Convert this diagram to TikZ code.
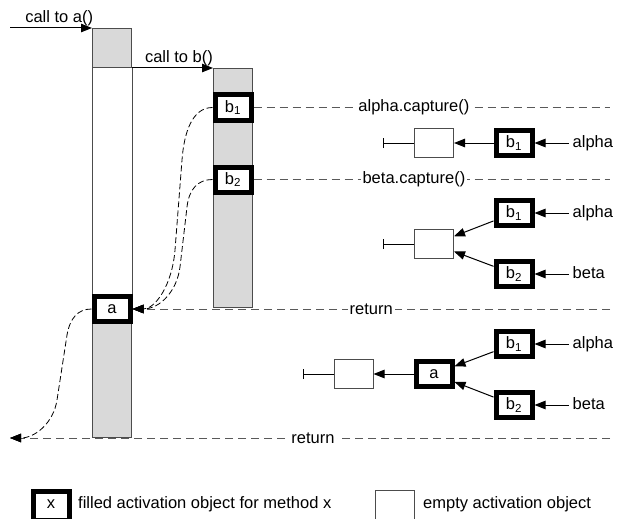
\documentclass[tikz,border=0pt]{standalone}
\usepackage{fontspec}
\setmainfont{Liberation Sans}
\usetikzlibrary{positioning, arrows.meta}

\begin{document}
\begin{tikzpicture}[x=1pt, y=-1pt, font=\fontsize{16.5}{19}\selectfont,
  column/.style={draw=black!70, fill=black!15, line width=1pt, minimum width=39pt, inner sep=0pt},
  filled/.style={draw, line width=5pt, fill=white, minimum width=36pt, minimum height=25pt, inner sep=0pt},
  emptybox/.style={draw=black!70, line width=1pt, fill=white, minimum width=39pt, minimum height=29pt, inner sep=0pt},
  var/.style={inner sep=4pt, text height=12pt, text depth=3.5pt},
  arr/.style={line width=1pt, -{Triangle[length=11pt, width=8.5pt]}},
  sep/.style={draw=black!65, line width=1pt, dash pattern=on 8pt off 5pt},
  back/.style={sep, -{Triangle[length=11pt, width=8.5pt, color=black]}},
  flow/.style={line width=0.8pt, dash pattern=on 6pt off 3pt, -{Triangle[length=11pt, width=8.5pt]}},
  lbl/.style={fill=white, inner sep=2pt},
  tick/.style={line width=1pt, {Bar[width=10pt]}-}]
  \useasboundingbox (0,0) rectangle (619,519);

  \node[column, minimum height=409pt] (colA) at (112,233) {};
  \draw[draw=black!70, line width=1pt, fill=white] (92,68) rectangle (132,294);
  \node[column, minimum height=239pt] (colB) at (233,188) {};

  \node[filled] (a) at (112,309) {a};
  \node[filled] (b1) at (233,107.5) {b\textsubscript{1}};
  \node[filled] (b2) at (233,179.5) {b\textsubscript{2}};

  \coordinate (inA) at (10,28);
  \draw[arr] (inA) -- node[above, pos=0.6, inner sep=2pt] (callA) {call to a()} (colA.north west);
  \draw[arr] (colA.east |- colB.north) -- node[above, pos=0.58, inner sep=2pt] (callB) {call to b()} (colB.north west);

  \coordinate (e1) at (610,107.5);
  \coordinate (e2) at (610,179.5);
  \coordinate (e3) at (610,309);
  \coordinate (e4) at (610,438);
  \coordinate (out) at (10,438);
  \draw[sep] (b1.east) -- node[lbl, pos=0.45] (capA) {alpha.capture()} (e1);
  \draw[sep] (b2.east) -- node[lbl, pos=0.45] (capB) {beta.capture()} (e2);
  \draw[back] (e3) -- node[lbl, pos=0.5] (ret1) {return} (a.east);
  \draw[back] (e4) -- node[lbl, pos=0.495] (ret2) {return} (out);

  \draw[flow] (b1.west) .. controls (192,107.5) and (184,133) .. (182,160) -- (175,250)
    .. controls (172,286) and (155,309) .. (a.east);
  \draw[flow] (b2.west) .. controls (198,179.5) and (189,189) .. (187,207) -- (180,267)
    .. controls (177,291) and (160,309) .. (a.east);
  \draw[flow] (a.west) .. controls (78,309) and (70,318) .. (67,335) -- (57,400)
    .. controls (53.5,423) and (35,438) .. (out);

  \node[filled] (r1b1) at (514,143) {b\textsubscript{1}};
  \node[emptybox] (r1e) at (434,143) {};
  \node[var, right=34pt of r1b1] (al1) {alpha};
  \coordinate (r1t) at (383,143);
  \draw[tick] (r1t) -- (r1e);
  \draw[arr] (r1b1) -- (r1e);
  \draw[arr] (al1) -- (r1b1);

  \node[filled] (r2b1) at (514,213) {b\textsubscript{1}};
  \node[filled] (r2b2) at (514,274) {b\textsubscript{2}};
  \node[emptybox] (r2e) at (434,244) {};
  \node[var, right=34pt of r2b1] (al2) {alpha};
  \node[var, right=34pt of r2b2] (be2) {beta};
  \coordinate (r2t) at (383,244);
  \draw[tick] (r2t) -- (r2e);
  \draw[arr] (r2b1) -- (r2e);
  \draw[arr] (r2b2) -- (r2e);
  \draw[arr] (al2) -- (r2b1);
  \draw[arr] (be2) -- (r2b2);

  \node[filled] (r3b1) at (514,344) {b\textsubscript{1}};
  \node[filled] (r3b2) at (514,405) {b\textsubscript{2}};
  \node[filled] (r3a) at (434,374) {a};
  \node[emptybox] (r3e) at (353.5,374) {};
  \node[var, right=34pt of r3b1] (al3) {alpha};
  \node[var, right=34pt of r3b2] (be3) {beta};
  \coordinate (r3t) at (303,374);
  \draw[tick] (r3t) -- (r3e);
  \draw[arr] (r3a) -- (r3e);
  \draw[arr] (r3b1) -- (r3a);
  \draw[arr] (r3b2) -- (r3a);
  \draw[arr] (al3) -- (r3b1);
  \draw[arr] (be3) -- (r3b2);

  \node[filled, minimum height=29pt, text depth=4pt] (keyx) at (51,506) {x};
  \node[var, anchor=west] (keyxt) at (74,504) {filled activation object for method x};
  \node[emptybox, minimum height=32pt] (keye) at (394.5,506.5) {};
  \node[var, anchor=west] (keyet) at (419,504) {empty activation object};
\end{tikzpicture}
\end{document}
